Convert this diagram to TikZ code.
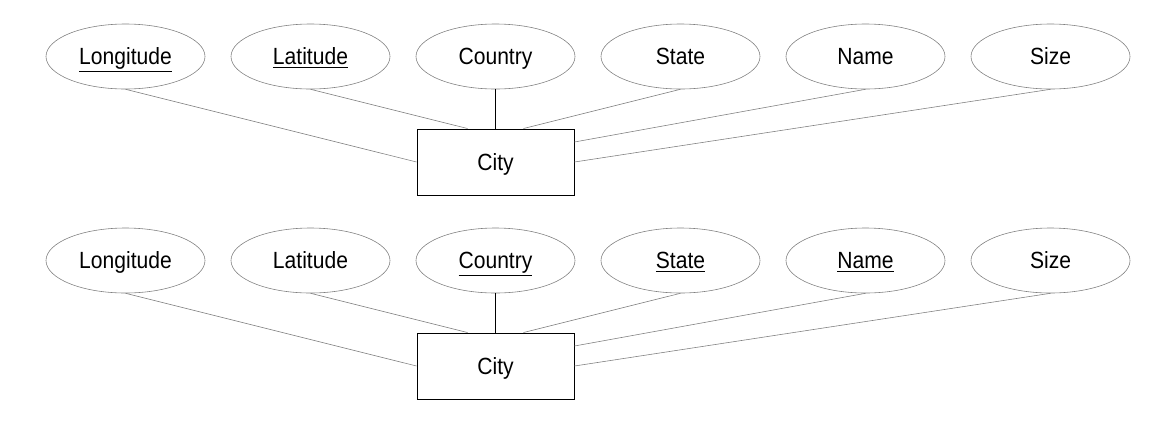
\documentclass[tikz,border=0pt]{standalone}
\usepackage{fontspec}
\setmainfont[FakeStretch=0.9]{Liberation Sans}
\usetikzlibrary{shapes.geometric}
\tikzset{%
            base/.style = {draw=gray, line width=0.5pt, inner sep=0pt,
                           text height=14.3pt, text depth=0pt,
                           text centered, font=\fontsize{20}{22}\selectfont},
  attr/.style   = {base, ellipse, minimum width=4.77cm, minimum height=1.95cm},
  entity/.style = {base, rectangle, draw=black, line width=0.85pt,
                   minimum width=4.71cm, minimum height=1.98cm},
  link/.style   = {draw=gray, line width=0.5pt},
  keylink/.style = {draw=black, line width=0.8pt},
}
\begin{document}
\begin{tikzpicture}[node distance=5.55cm]
  \useasboundingbox (0,0) rectangle (35.16,-13.38);

  % first diagram
  \node (upLongitude) [attr] at (3.765,-1.695)             {\underline{Longitude}};
  \node (upLatitude)  [attr, right of=upLongitude]          {\underline{Latitude}};
  \node (upCountry)   [attr, right of=upLatitude]           {Country};
  \node (upState)     [attr, right of=upCountry]            {State};
  \node (upName)      [attr, right of=upState]              {Name};
  \node (upSize)      [attr, right of=upName]               {Size};
  \node (upCity)      [entity, below of=upCountry, yshift=2.385cm] {City};

  \draw[link]    (upLongitude.south) -- (upCity.west);
  \draw[link]    (upLatitude.south)  -- ([xshift=-0.84cm]upCity.north);
  \draw[keylink] (upCountry.south)   -- (upCity.north);
  \draw[link]    (upState.south)     -- ([xshift=0.84cm]upCity.north);
  \draw[link]    (upName.south)      -- ([yshift=0.6cm]upCity.east);
  \draw[link]    (upSize.south)      -- (upCity.east);

  % second diagram
  \node (lowLongitude) [attr, below of=upLongitude, yshift=-0.57cm] {Longitude};
  \node (lowLatitude)  [attr, right of=lowLongitude]        {Latitude};
  \node (lowCountry)   [attr, right of=lowLatitude]         {\underline{Country}};
  \node (lowState)     [attr, right of=lowCountry]          {\underline{State}};
  \node (lowName)      [attr, right of=lowState]            {\underline{Name}};
  \node (lowSize)      [attr, right of=lowName]             {Size};
  \node (lowCity)      [entity, below of=lowCountry, yshift=2.385cm] {City};

  \draw[link]    (lowLongitude.south) -- (lowCity.west);
  \draw[link]    (lowLatitude.south)  -- ([xshift=-0.84cm]lowCity.north);
  \draw[keylink] (lowCountry.south)   -- (lowCity.north);
  \draw[link]    (lowState.south)     -- ([xshift=0.84cm]lowCity.north);
  \draw[link]    (lowName.south)      -- ([yshift=0.6cm]lowCity.east);
  \draw[link]    (lowSize.south)      -- (lowCity.east);
\end{tikzpicture}
\end{document}
